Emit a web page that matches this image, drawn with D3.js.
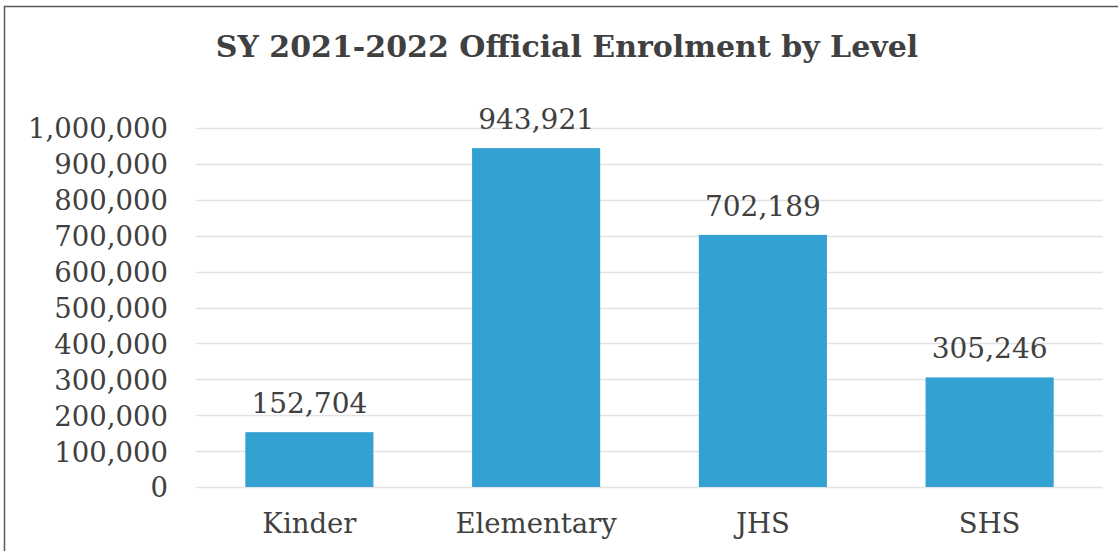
<!DOCTYPE html>
<html>
<head>
<meta charset="utf-8">
<script src="https://cdn.jsdelivr.net/npm/d3@7/dist/d3.min.js"></script>
<style>
  html, body { margin: 0; padding: 0; background: #fff; }
  svg { display: block; }
</style>
</head>
<body>
<svg id="chart" width="1118" height="551"></svg>
<script>
// Enrolment data by level
const categories = ["Kinder", "Elementary", "JHS", "SHS"];
const enrolment = [152704, 943921, 702189, 305246];
const yTicks = [0, 100000, 200000, 300000, 400000, 500000, 600000, 700000, 800000, 900000, 1000000];
const chartTitle = "SY 2021-2022 Official Enrolment by Level";

const svg = d3.select("#chart");
const W = 1118, H = 551;
const margin = { left: 196, right: 15, top: 128, bottom: 64 };
const serif = "'DejaVu Serif', 'Liberation Serif', serif";
const textColor = "#404040";

// Outer frame
svg.append("path")
  .attr("d", `M${W},6.5 H4.5 V${H}`)
  .attr("fill", "none")
  .attr("stroke", "#5a5a5a")
  .attr("stroke-width", 1.5);

// Title
svg.append("text")
  .attr("x", 567)
  .attr("y", 57)
  .attr("text-anchor", "middle")
  .attr("font-family", serif)
  .attr("font-weight", "bold")
  .attr("font-size", 30)
  .attr("fill", textColor)
  .text(chartTitle);

const x = d3.scaleBand()
  .domain(categories)
  .range([margin.left, W - margin.right])
  .paddingInner(0.435)
  .paddingOuter(0.2175);

const y = d3.scaleLinear()
  .domain([0, 1000000])
  .range([H - margin.bottom, margin.top]);

const fmt = d3.format(",");

// Horizontal gridlines
svg.append("g")
  .selectAll("line")
  .data(yTicks)
  .join("line")
  .attr("x1", margin.left)
  .attr("x2", W - margin.right)
  .attr("y1", d => Math.round(y(d)) + 0.5)
  .attr("y2", d => Math.round(y(d)) + 0.5)
  .attr("stroke", "#e3e3e3")
  .attr("stroke-width", 1.5);

// Y axis labels
const yAxis = d3.axisLeft(y).tickValues(yTicks).tickFormat(fmt).tickSize(0).tickPadding(0);
const yg = svg.append("g")
  .attr("transform", `translate(168,0)`)
  .call(yAxis);
yg.select(".domain").remove();
yg.selectAll("text")
  .attr("font-family", serif)
  .attr("font-size", 27.5)
  .attr("fill", textColor)
  .attr("dy", "0.36em");

// Bars
svg.append("g")
  .selectAll("rect")
  .data(enrolment)
  .join("rect")
  .attr("x", (d, i) => x(categories[i]))
  .attr("width", x.bandwidth())
  .attr("y", d => y(d))
  .attr("height", d => y(0) - y(d))
  .attr("fill", "#33a2d2");

// Value labels
svg.append("g")
  .selectAll("text")
  .data(enrolment)
  .join("text")
  .attr("x", (d, i) => x(categories[i]) + x.bandwidth() / 2)
  .attr("y", d => y(d) - 19)
  .attr("text-anchor", "middle")
  .attr("font-family", serif)
  .attr("font-size", 28)
  .attr("fill", textColor)
  .text(d => fmt(d));

// Category labels
const xAxis = d3.axisBottom(x).tickSize(0).tickPadding(0);
const xg = svg.append("g")
  .attr("transform", `translate(0,${y(0)})`)
  .call(xAxis);
xg.select(".domain").remove();
xg.selectAll("text")
  .attr("font-family", serif)
  .attr("font-size", 27.5)
  .attr("fill", textColor)
  .attr("dy", 0)
  .attr("y", 46);
</script>
</body>
</html>
